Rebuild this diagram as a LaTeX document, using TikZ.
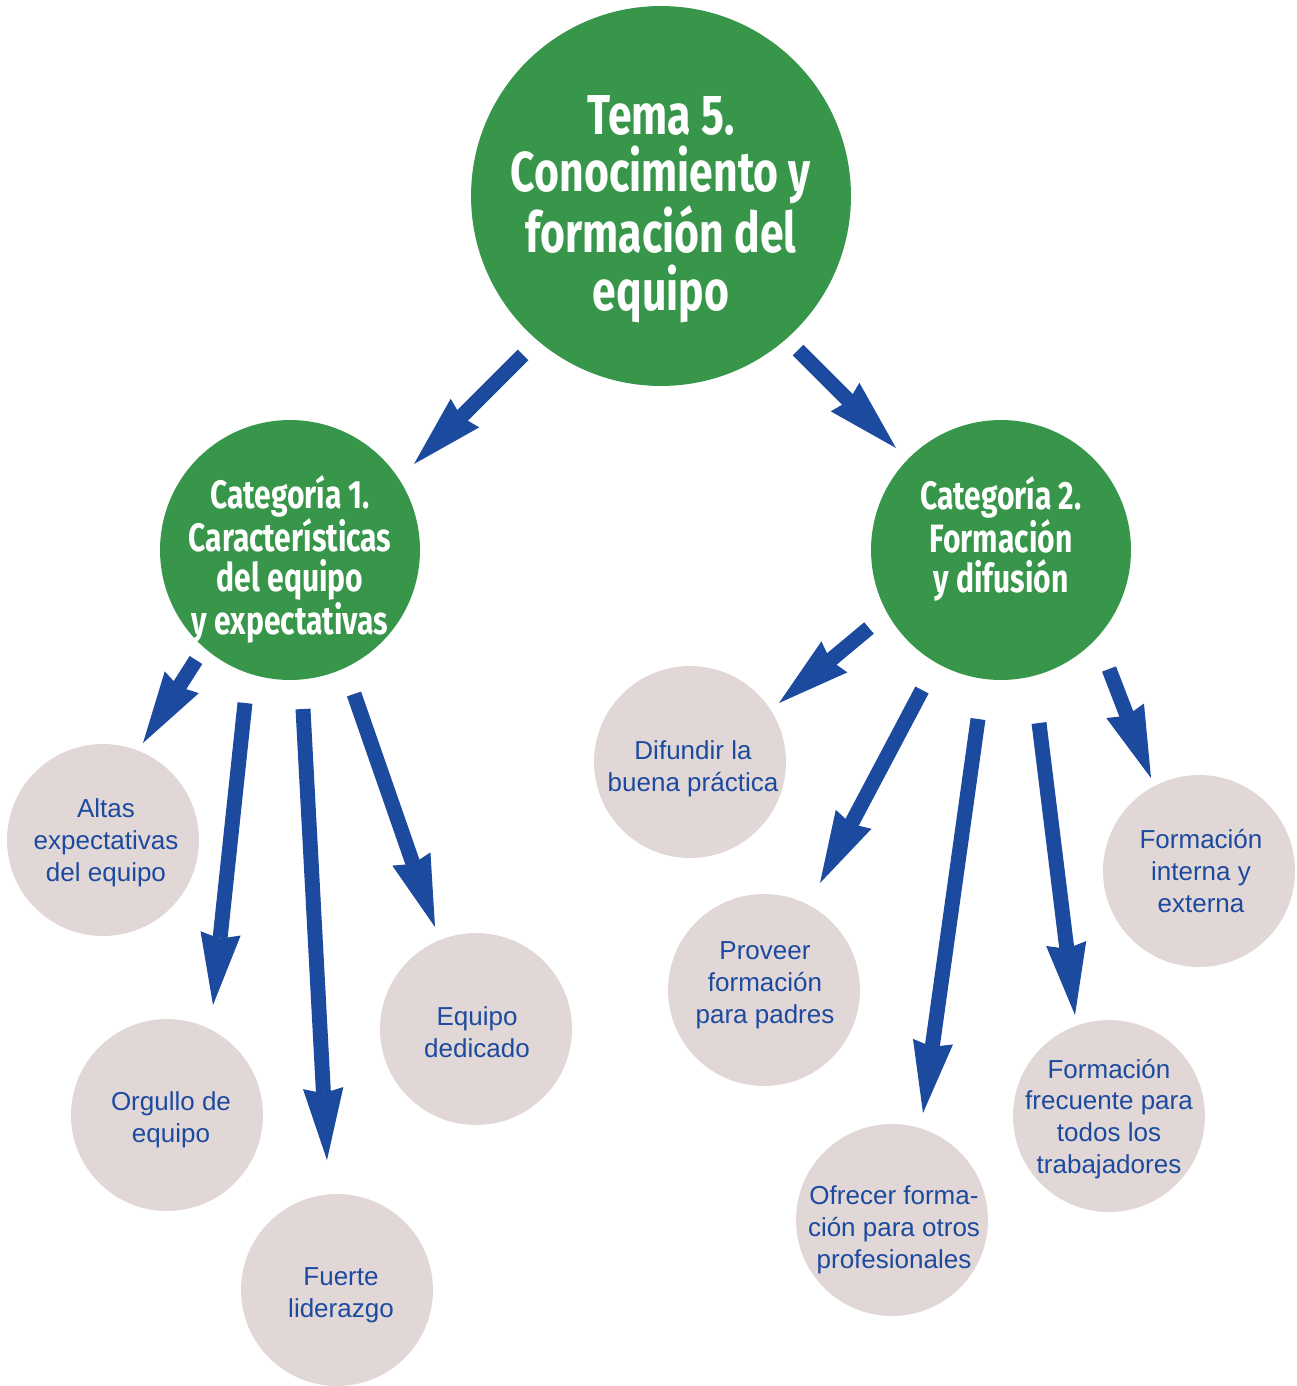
\documentclass[tikz,border=0pt]{standalone}
\usepackage{fontspec}
\setmainfont{Liberation Sans}
\newfontfamily\headfont[FakeStretch=0.76]{Fira Sans}
\usetikzlibrary{arrows.meta}
\definecolor{tgreen}{HTML}{38964A}
\definecolor{tpink}{HTML}{E2D7D7}
\definecolor{tblue}{HTML}{1C4A9E}
\begin{document}
\begin{tikzpicture}[x=0.02cm,y=-0.02cm,
  bigc/.style={circle, fill=tgreen, inner sep=0pt, minimum size=7.6cm},
  bigt/.style={text=white, inner sep=0pt, align=center,
    font=\headfont\bfseries\fontsize{32}{32.8}\selectfont},
  catc/.style={circle, fill=tgreen, inner sep=0pt, minimum size=5.2cm},
  catt/.style={text=white, inner sep=0pt, align=center,
    font=\headfont\bfseries\fontsize{22.5}{22.7}\selectfont},
  leaf/.style={circle, fill=tpink, inner sep=0pt, minimum size=3.84cm},
  leaft/.style={text=tblue, inner sep=0pt, align=center,
    font=\fontsize{14.8}{18.1}\selectfont},
  arr/.style={draw=tblue, line width=8.5pt,
    -{Stealth[length=41pt,width=23pt,inset=3pt,line width=0pt]}}]
\useasboundingbox (0,0) rectangle (1296,1386);
% circles
\node[bigc] (main) at (661,196) {};
\node[catc] (cat1) at (290,550) {};
\node[catc] (cat2) at (1001,550) {};
\node[leaf] (altas) at (103,840) {};
\node[leaf] (orgullo) at (167,1115) {};
\node[leaf] (fuerte) at (337,1290) {};
\node[leaf] (dedicado) at (476,1029) {};
\node[leaf] (difundir) at (690,762) {};
\node[leaf] (proveer) at (764,990) {};
\node[leaf] (ofrecer) at (892,1220) {};
\node[leaf] (frecuente) at (1109,1116) {};
\node[leaf] (interna) at (1199,871) {};
% texts
\node[bigt] (mainT) at (661,209) {Tema 5.\\Conocimiento y\\formación del\\equipo};
\node[catt] (cat1T) at (290,559) {Categoría 1.\\Características\\del equipo\\y expectativas};
\node[catt] (cat2T) at (1001,539) {Categoría 2.\\Formación\\y difusión};
\node[leaft] (altasT) at (106,843) {Altas\\expectativas\\del equipo};
\node[leaft] (orgulloT) at (171,1120) {Orgullo de\\equipo};
\node[leaft] (fuerteT) at (341,1295) {Fuerte\\liderazgo};
\node[leaft] (dedicadoT) at (477,1032) {Equipo\\dedicado};
\node[leaft] (difundirT) at (693,769) {Difundir la\\buena práctica};
\node[leaft] (proveerT) at (765,985) {Proveer\\formación\\para padres};
\node[leaft] (ofrecerT) at (894,1230) {Ofrecer forma-\\ción para otros\\profesionales};
\node[leaft] (frecuenteT) at (1109,1119) {Formación\\frecuente para\\todos los\\trabajadores};
\node[leaft] (internaT) at (1201,871) {Formación\\interna y\\externa};
% arrow end points
\coordinate (m1s) at (523,355); \coordinate (m1t) at (414,464);
\coordinate (m2s) at (798,350); \coordinate (m2t) at (896,448);
\coordinate (a1s) at (196,660); \coordinate (a1t) at (143,743);
\coordinate (a2s) at (245,703); \coordinate (a2t) at (213,1005);
\coordinate (a3s) at (303,709); \coordinate (a3t) at (327,1160);
\coordinate (a4s) at (354,694); \coordinate (a4t) at (435,927);
\coordinate (b1s) at (869,628); \coordinate (b1t) at (779,703);
\coordinate (b2s) at (922,690); \coordinate (b2t) at (820,883);
\coordinate (b3s) at (978,719); \coordinate (b3t) at (923,1113);
\coordinate (b4s) at (1039,723); \coordinate (b4t) at (1075,1015);
\coordinate (b5s) at (1109,669); \coordinate (b5t) at (1151,778);
% arrows
\draw[arr] (m1s) -- (m1t);
\draw[arr] (m2s) -- (m2t);
\draw[arr] (a1s) -- (a1t);
\draw[arr] (a2s) -- (a2t);
\draw[arr] (a3s) -- (a3t);
\draw[arr] (a4s) -- (a4t);
\draw[arr] (b1s) -- (b1t);
\draw[arr] (b2s) -- (b2t);
\draw[arr] (b3s) -- (b3t);
\draw[arr] (b4s) -- (b4t);
\draw[arr] (b5s) -- (b5t);
\end{tikzpicture}
\end{document}
